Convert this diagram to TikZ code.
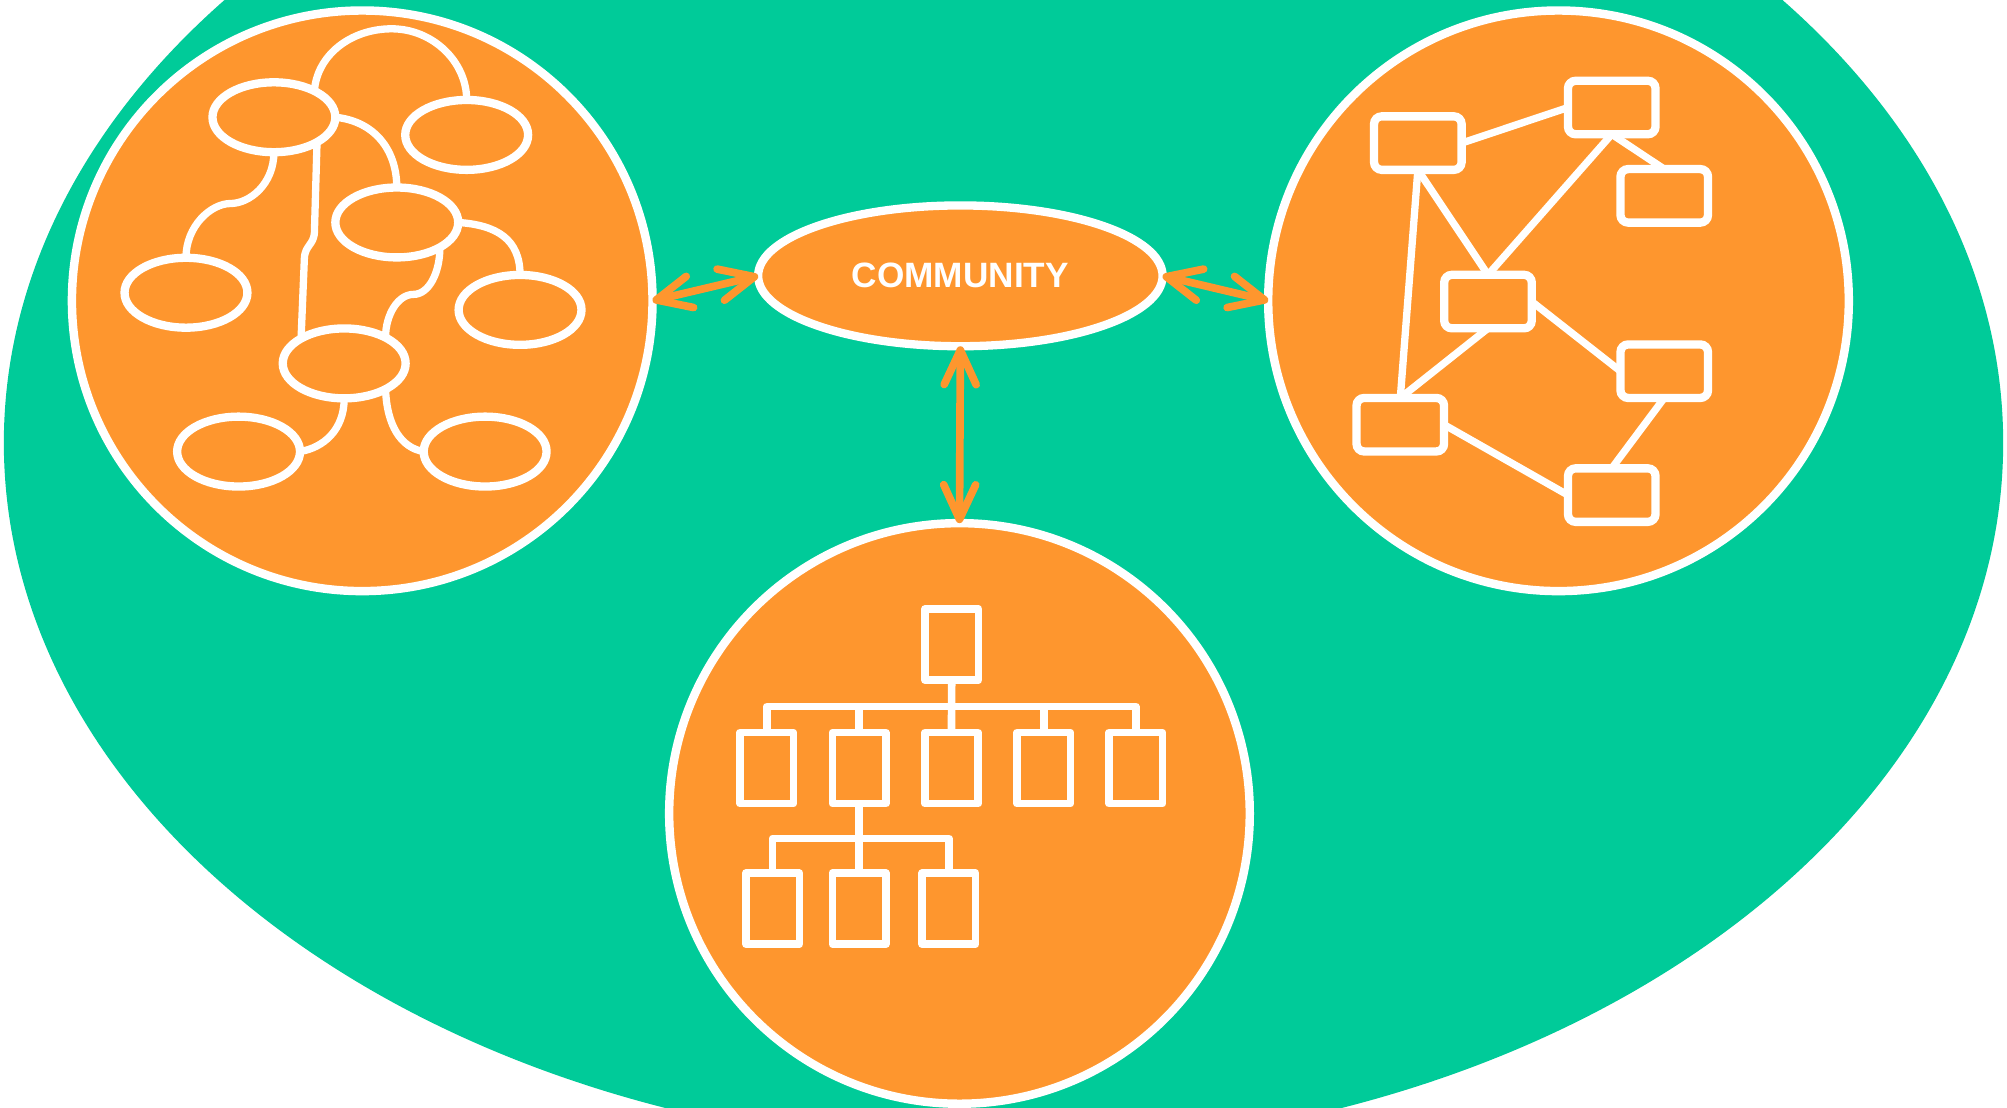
\documentclass[tikz,border=0pt]{standalone}
\usepackage{fontspec}
\setmainfont{Liberation Sans}
\usetikzlibrary{shapes.geometric,arrows.meta}
\definecolor{leaf}{RGB}{0,203,153}
\definecolor{amber}{RGB}{254,150,46}
\pgfdeclarelayer{base}
\pgfdeclarelayer{links}
\pgfsetlayers{base,links,main}

\begin{document}
\begin{tikzpicture}[x=1pt,y=-1pt,
  every node/.style={inner sep=0pt, outer sep=0pt},
  hub/.style={circle, draw=white, fill=amber, line width=6.6pt, minimum size=453.6pt},
  idea/.style={ellipse, draw=white, fill=amber, line width=6.5pt, minimum width=96pt, minimum height=54.6pt},
  peer/.style={rectangle, rounded corners=6pt, draw=white, fill=amber, line width=6.5pt, minimum width=68.4pt, minimum height=41.8pt},
  unit/.style={rectangle, line join=round, draw=white, fill=amber, line width=6pt, minimum width=41.8pt, minimum height=55.5pt},
  wire/.style={draw=white, line width=5.7pt, line cap=round},
  tree/.style={draw=white, line width=6pt, line join=round},
  link/.style={draw=amber, line width=6pt, line cap=round,
    >={Straight Barb[length=27pt,width=25pt,round]}, <->},
]
% page frame
\useasboundingbox (0,0) rectangle (1568,865);
\clip (0,0) rectangle (1568,865);

\begin{pgfonlayer}{base}
  \fill[white] (0,0) rectangle (1568,865);
  \fill[leaf] (784,346) ellipse [x radius=781pt, y radius=552pt];
  \node[hub] (lc) at (283,235) {};
  \node[hub] (rc) at (1217.6,235) {};
  \node[hub] (bc) at (749.6,635.5) {};
\end{pgfonlayer}

% central hub
\node[ellipse, draw=white, fill=amber, line width=6.5pt,
      minimum width=316pt, minimum height=110pt, text=white,
      font=\bfseries\fontsize{27.5}{30}\selectfont] (comm) at (750.3,215.5) {COMMUNITY};

% left: loose network of ellipses
\node[idea] (e1) at (214,91.6) {};
\node[idea] (e2) at (364.6,105.4) {};
\node[idea] (e3) at (310,173.8) {};
\node[idea] (e4) at (145.3,228.7) {};
\node[idea] (e5) at (406.3,242.1) {};
\node[idea] (e6) at (268.9,283.9) {};
\node[idea] (e7) at (186.4,352.8) {};
\node[idea] (e8) at (379,352.8) {};

% right: mesh of rounded boxes
\node[peer] (p1) at (1107.7,111.8) {};
\node[peer] (p2) at (1259.2,84) {};
\node[peer] (p3) at (1300.2,153) {};
\node[peer] (p4) at (1162.5,235.6) {};
\node[peer] (p5) at (1300.2,290) {};
\node[peer] (p6) at (1094,331.8) {};
\node[peer] (p7) at (1259.2,386.8) {};

% bottom: hierarchy
\node[unit] (o0) at (743.5,503.6) {};
\node[unit] (o21) at (599,600.1) {};
\node[unit] (o22) at (671.2,600.1) {};
\node[unit] (o23) at (743.4,600.1) {};
\node[unit] (o24) at (815.4,600.1) {};
\node[unit] (o25) at (887.4,600.1) {};
\node[unit] (o31) at (603.6,709.9) {};
\node[unit] (o32) at (671.2,709.9) {};
\node[unit] (o33) at (741.3,709.9) {};
\coordinate (bus1) at (743.5,552);
\coordinate (bus2) at (671.2,655);

\begin{pgfonlayer}{links}
  % ellipse network
  \draw[wire] (e1.33) .. controls +(2,-28) and +(-32,0) .. (306,22.5)
                      .. controls +(32,0) and +(0,-30) .. (e2.north);
  \draw[wire] (e1.east) .. controls +(30,3) and +(0,-30) .. (e3.north);
  \draw[wire] (e1.south) .. controls +(0,25) and +(15,0) .. (180,159)
                         .. controls +(-15,0) and +(0,-25) .. (e4.north);
  \draw[wire, rounded corners=4pt] (e1.-30) -- (245.5,186) -- (238,197) -- (e6.150);
  \draw[wire] (e3.east) .. controls +(30,2) and +(0,-28) .. (e5.north);
  \draw[wire] (e3.-30) .. controls +(0,20) and +(12,0) .. (323,230)
                       .. controls +(-12,0) and +(0,-18) .. (e6.32);
  \draw[wire] (e6.south) .. controls +(0,25) and +(18,-3) .. (e7.east);
  \draw[wire] (e6.-32) .. controls +(1,28) and +(-18,-3) .. (e8.west);

  % box mesh
  \draw[wire] (p1.east) -- (p2.west);
  \draw[wire] (p2.south) -- (p3.north);
  \draw[wire] (p2.south) -- (p4.north);
  \draw[wire] (p1.south) -- (p4.north);
  \draw[wire] (p1.south) -- (p6.north);
  \draw[wire] (p4.south) -- (p6.north);
  \draw[wire] (p4.east) -- (p5.west);
  \draw[wire] (p5.south) -- (p7.north);
  \draw[wire] (p6.east) -- (p7.west);

  % hierarchy bus lines
  \draw[tree] (o21.north) |- (bus1) -| (o25.north);
  \draw[tree] (o0.south) -- (o23.north);
  \draw[tree] (o22.north) -- (o22.north |- bus1);
  \draw[tree] (o24.north) -- (o24.north |- bus1);
  \draw[tree] (o31.north) |- (bus2) -| (o33.north);
  \draw[tree] (o22.south) -- (o32.north);
\end{pgfonlayer}

% two-way links to the hub
\draw[link] (lc.east) -- (comm.west);
\draw[link] (comm.east) -- (rc.west);
\draw[link] (comm.south) -- (bc.north);
\end{tikzpicture}
\end{document}
